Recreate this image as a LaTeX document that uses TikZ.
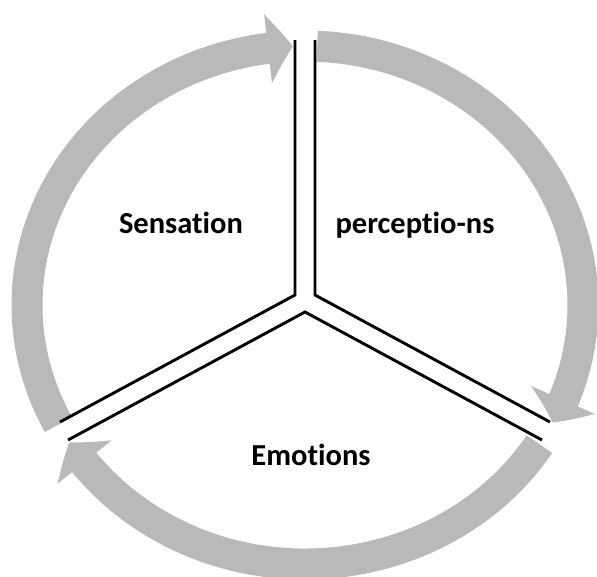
\documentclass[tikz,border=0pt]{standalone}
\usepackage{fontspec}
\setmainfont{Carlito}[Ligatures=NoCommon]
\usepackage{tikz}
\usetikzlibrary{arrows.meta,bending}
\definecolor{ringgray}{HTML}{B9B9B9}

\begin{document}
\begin{tikzpicture}[
  x=1pt, y=-1pt,
  stageText/.style={font=\fontsize{30.5}{36}\selectfont\bfseries, anchor=base, inner sep=0pt},
  ringArrow/.style={draw=ringgray, line width=31pt, line cap=butt, -{Triangle[length=25pt,width=68pt,bend]}},
  divider/.style={draw=black, line width=2.9pt, line join=miter}
]
  \useasboundingbox (0,0) rectangle (597,576);
  \coordinate (hub) at (305,305);

  \draw[ringArrow] (hub) ++(207.5:278pt and 259pt)
    arc[start angle=207.5, end angle=92.5, x radius=278pt, y radius=259pt];
  \draw[ringArrow] (hub) ++(87.5:278pt and 259pt)
    arc[start angle=87.5, end angle=-27, x radius=278pt, y radius=259pt];
  \draw[ringArrow] (hub) ++(-32.5:278pt and 259pt)
    arc[start angle=-32.5, end angle=-148, x radius=278pt, y radius=259pt];

  \coordinate (topL) at (295,40);
  \coordinate (hubL) at (295,295);
  \coordinate (leftU) at (60,422);
  \coordinate (topR) at (315,40);
  \coordinate (hubR) at (315,295);
  \coordinate (rightU) at (550,422);
  \coordinate (leftD) at (68,440);
  \coordinate (hubD) at (305,312);
  \coordinate (rightD) at (542,440);

  \draw[divider] (topL) -- (hubL) -- (leftU);
  \draw[divider] (topR) -- (hubR) -- (rightU);
  \draw[divider] (leftD) -- (hubD) -- (rightD);

  \node[stageText] (sensation) at (181,233) {Sensation};
  \node[stageText] (perceptions) at (415,233) {perceptio-ns};
  \node[stageText] (emotions) at (311,465) {Emotions};
\end{tikzpicture}
\end{document}
